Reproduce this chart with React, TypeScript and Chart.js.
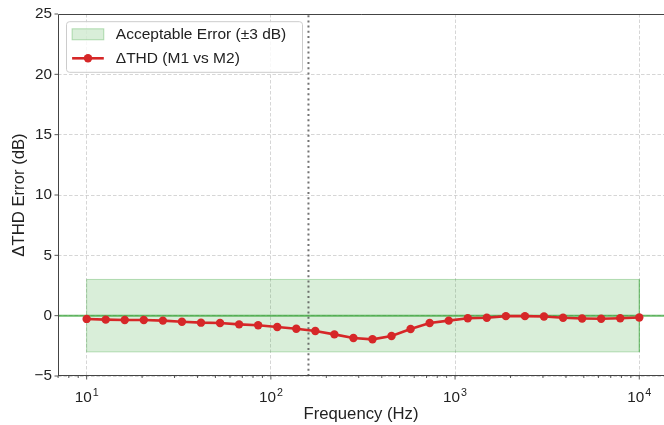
import React, { useEffect, useRef } from 'react';
import { Chart, registerables } from 'chart.js';

Chart.register(...registerables);

// ---- data ----
const frequencies = [10, 12.69, 16.1, 20.43, 25.93, 32.9, 41.75, 52.98, 67.23, 85.32, 108.3, 137.4, 174.3, 221.2, 280.7, 356.2, 452.0, 573.6, 727.9, 923.7, 1172, 1487, 1887, 2395, 3039, 3857, 4894, 6210, 7880, 10000];
const deltaTHD = [-0.27, -0.33, -0.36, -0.36, -0.41, -0.5, -0.58, -0.61, -0.72, -0.8, -0.94, -1.08, -1.27, -1.55, -1.85, -1.96, -1.68, -1.1, -0.61, -0.41, -0.21, -0.17, -0.04, -0.04, -0.07, -0.17, -0.23, -0.26, -0.21, -0.15];
const bandX = [10, 10000];
const bandLimits = [-3, 3];
const cornerFrequency = 160;
const yTicks = [-5, 0, 5, 10, 15, 20, 25];
const xMajorTicks = [10, 100, 1000, 10000];
const xTickBase = '10';
const xTickExponents = ['1', '2', '3', '4'];
const legendLabels = ['Acceptable Error (±3 dB)', 'ΔTHD (M1 vs M2)'];
const xTitle = 'Frequency (Hz)';
const yTitle = 'ΔTHD Error (dB)';

const X_MIN = 6.99;
const X_MAX = 13620;
const Y_MIN = -5;
const Y_MAX = 25;

const FONT = '"Liberation Sans", Arial, Helvetica, sans-serif';
const RED = '#d62728';
const BAND_FILL = 'rgba(44,160,44,0.18)';
const BAND_EDGE = 'rgba(44,160,44,0.32)';
const ZERO_LINE = 'rgba(44,160,44,0.7)';
const GRID = 'rgba(176,176,176,0.65)';
const SPINE = '#444';
const TEXT = '#222';

const minorTicks: number[] = [];
for (const dec of [1, 10, 100, 1000, 10000]) {
  for (let m = 2; m <= 9; m++) {
    const v = m * dec;
    if (v > X_MIN && v < X_MAX) minorTicks.push(v);
  }
}

const decorPlugin = {
  id: 'decor',
  afterDraw(chart: any) {
    const { ctx, chartArea: a, scales } = chart;
    const xs = scales.x;
    const ys = scales.y;
    ctx.save();
    // spines (top, left, bottom)
    ctx.strokeStyle = SPINE;
    ctx.lineWidth = 1;
    ctx.beginPath();
    ctx.moveTo(a.left + 0.5, a.bottom - 0.5);
    ctx.lineTo(a.left + 0.5, a.top + 0.5);
    ctx.lineTo(a.right, a.top + 0.5);
    ctx.moveTo(a.left, a.bottom - 0.5);
    ctx.lineTo(a.right, a.bottom - 0.5);
    ctx.stroke();
    // tick marks
    ctx.lineWidth = 0.9;
    ctx.beginPath();
    for (const v of xMajorTicks) {
      const px = xs.getPixelForValue(v);
      ctx.moveTo(px, a.bottom);
      ctx.lineTo(px, a.bottom + 3.5);
    }
    for (const v of minorTicks) {
      const px = xs.getPixelForValue(v);
      ctx.moveTo(px, a.bottom);
      ctx.lineTo(px, a.bottom + 2);
    }
    for (const v of yTicks) {
      const py = ys.getPixelForValue(v);
      ctx.moveTo(a.left, py);
      ctx.lineTo(a.left - 3.5, py);
    }
    ctx.stroke();

    // x tick labels 10^n
    ctx.fillStyle = TEXT;
    ctx.textBaseline = 'alphabetic';
    ctx.textAlign = 'left';
    xMajorTicks.forEach((v, i) => {
      const px = xs.getPixelForValue(v);
      ctx.font = `15.3px ${FONT}`;
      const wb = ctx.measureText(xTickBase).width;
      ctx.font = `10.7px ${FONT}`;
      const we = ctx.measureText(xTickExponents[i]).width;
      const x0 = px - (wb + we + 1) / 2;
      ctx.font = `15.3px ${FONT}`;
      ctx.fillText(xTickBase, x0, a.bottom + 26);
      ctx.font = `10.7px ${FONT}`;
      ctx.fillText(xTickExponents[i], x0 + wb + 1, a.bottom + 20);
    });

    // legend
    const lx = a.left + 8.5;
    const ly = a.top + 7.7;
    const w = 236;
    const h = 50.6;
    ctx.beginPath();
    if ((ctx as any).roundRect) (ctx as any).roundRect(lx, ly, w, h, 3);
    else ctx.rect(lx, ly, w, h);
    ctx.fillStyle = 'rgba(255,255,255,0.85)';
    ctx.fill();
    ctx.strokeStyle = '#cccccc';
    ctx.lineWidth = 1;
    ctx.stroke();

    const r1 = ly + 12.6;
    const r2 = ly + 36.6;
    ctx.fillStyle = BAND_FILL;
    ctx.fillRect(lx + 5.6, r1 - 5.5, 31.7, 11);
    ctx.strokeStyle = BAND_EDGE;
    ctx.strokeRect(lx + 5.6, r1 - 5.5, 31.7, 11);
    ctx.strokeStyle = RED;
    ctx.lineWidth = 2.6;
    ctx.beginPath();
    ctx.moveTo(lx + 5.6, r2);
    ctx.lineTo(lx + 37.3, r2);
    ctx.stroke();
    ctx.fillStyle = RED;
    ctx.beginPath();
    ctx.arc(lx + 21.5, r2, 4.2, 0, Math.PI * 2);
    ctx.fill();

    ctx.fillStyle = TEXT;
    ctx.font = `15.5px ${FONT}`;
    ctx.textBaseline = 'middle';
    ctx.textAlign = 'left';
    ctx.fillText(legendLabels[0], lx + 49.3, r1);
    ctx.fillText(legendLabels[1], lx + 49.3, r2);
    ctx.restore();
  },
};

export default function App() {
  const ref = useRef<HTMLCanvasElement | null>(null);

  useEffect(() => {
    if (!ref.current) return;
    const bandPoly = [
      { x: bandX[0], y: bandLimits[0] },
      { x: bandX[0], y: bandLimits[1] },
      { x: bandX[1], y: bandLimits[1] },
      { x: bandX[1], y: bandLimits[0] },
      { x: bandX[0], y: bandLimits[0] },
    ];
    const chart = new Chart(ref.current, {
      type: 'line',
      data: {
        datasets: [
          {
            label: legendLabels[1],
            data: frequencies.map((f, i) => ({ x: f, y: deltaTHD[i] })),
            borderColor: RED,
            backgroundColor: RED,
            borderWidth: 2.6,
            pointRadius: 4.2,
            pointBorderWidth: 0,
            pointBackgroundColor: RED,
            tension: 0,
            fill: false,
          },
          {
            label: 'corner',
            data: [
              { x: cornerFrequency, y: Y_MIN },
              { x: cornerFrequency, y: Y_MAX },
            ],
            borderColor: 'rgba(90,90,90,0.85)',
            borderWidth: 2,
            borderDash: [2, 3.2],
            pointRadius: 0,
            fill: false,
          },
          {
            label: 'zero',
            data: [
              { x: X_MIN, y: 0 },
              { x: X_MAX, y: 0 },
            ],
            borderColor: ZERO_LINE,
            borderWidth: 2,
            pointRadius: 0,
            fill: false,
          },
          {
            label: legendLabels[0],
            data: bandPoly,
            borderColor: BAND_EDGE,
            backgroundColor: BAND_FILL,
            borderWidth: 1,
            pointRadius: 0,
            fill: 'shape',
          },
        ],
      },
      options: {
        animation: false,
        responsive: false,
        devicePixelRatio: 1,
        events: [],
        layout: { autoPadding: false, padding: { top: 14, left: 0, right: 0, bottom: 0 } },
        plugins: {
          legend: { display: false },
          tooltip: { enabled: false },
        },
        scales: {
          x: {
            type: 'logarithmic',
            min: X_MIN,
            max: X_MAX,
            afterFit: (s: any) => {
              s.height = 49;
              s.paddingLeft = 0;
              s.paddingRight = 0;
            },
            afterBuildTicks: (s: any) => {
              s.ticks = [...xMajorTicks, ...minorTicks]
                .sort((p, q) => p - q)
                .map((v) => ({ value: v, major: xMajorTicks.includes(v) }));
            },
            ticks: {
              autoSkip: false,
              maxRotation: 0,
              padding: 12,
              color: TEXT,
              font: { family: FONT, size: 15.3 },
              callback: () => '',
            },
            grid: {
              drawTicks: false,
              lineWidth: 0.8,
              color: (c: any) =>
                c.tick && xMajorTicks.includes(c.tick.value) ? GRID : 'rgba(0,0,0,0)',
            },
            border: { display: false, dash: [3.5, 2] },
            title: {
              display: true,
              text: xTitle,
              color: TEXT,
              font: { family: FONT, size: 16.7 },
              padding: { top: 0, bottom: 1 },
            },
          },
          y: {
            type: 'linear',
            min: Y_MIN,
            max: Y_MAX,
            afterFit: (s: any) => {
              s.width = 58;
              s.paddingTop = 0;
              s.paddingBottom = 0;
            },
            afterBuildTicks: (s: any) => {
              s.ticks = yTicks.map((v) => ({ value: v }));
            },
            ticks: {
              padding: 6,
              color: TEXT,
              font: { family: FONT, size: 15.3 },
              callback: (v: any) => (Number(v) < 0 ? '\u2212' + Math.abs(Number(v)) : String(v)),
            },
            grid: {
              drawTicks: false,
              lineWidth: 0.8,
              color: GRID,
            },
            border: { display: false, dash: [3.5, 2] },
            title: {
              display: true,
              text: yTitle,
              color: TEXT,
              font: { family: FONT, size: 16.7 },
              padding: { top: 9.5, bottom: 0 },
            },
          },
        },
      },
      plugins: [decorPlugin],
    } as any);
    return () => chart.destroy();
  }, []);

  return (
    <div style={{ position: 'absolute', left: 0, top: 0, width: 664, height: 425, background: '#fff' }}>
      <canvas ref={ref} width={664} height={425} style={{ width: 664, height: 425, display: 'block' }} />
    </div>
  );
}
